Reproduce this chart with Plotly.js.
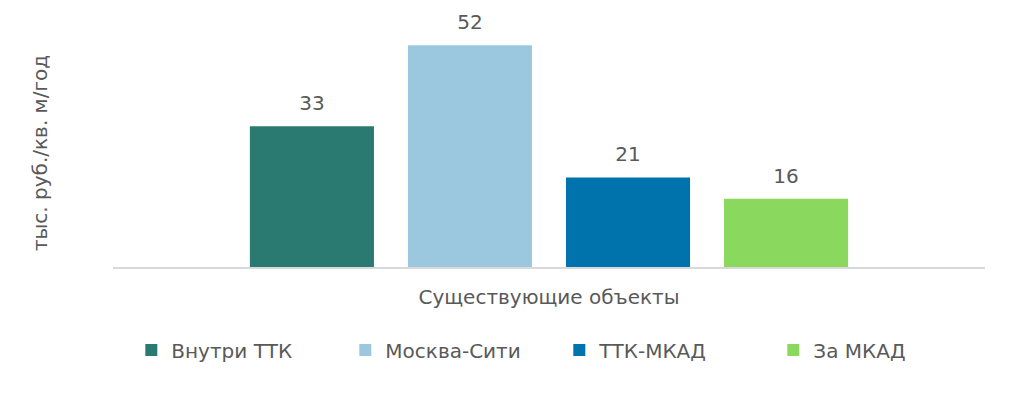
<!DOCTYPE html>
<html><head><meta charset="utf-8">
<script src="https://cdn.plot.ly/plotly-3.0.1.min.js"></script>
<style>html,body{margin:0;padding:0;background:#fff}#chart{width:1024px;height:419px}</style>
</head><body><div id="chart"></div>
<script>
const categories = ["Существующие объекты"];
const seriesNames = ["Внутри ТТК", "Москва-Сити", "ТТК-МКАД", "За МКАД"];
const seriesValues = [[33], [52], [21], [16]];
const seriesColors = ["#2b7a72", "#9bc8de", "#0073ad", "#8bd85f"];
const yTitle = "тыс. руб./кв. м/год";

const FONT = "DejaVu Sans, Verdana, sans-serif";
const TXT = "#595959";

const bars = seriesNames.map((n, i) => ({
  type: "bar",
  name: n,
  x: categories,
  y: seriesValues[i],
  marker: {color: seriesColors[i]},
  hoverinfo: "skip"
}));

const labels = seriesNames.map((n, i) => ({
  type: "scatter",
  mode: "markers+text",
  name: n + " (подпись)",
  x: categories,
  y: seriesValues[i],
  text: seriesValues[i].map(String),
  textposition: "top center",
  textfont: {family: FONT, size: 20, color: TXT},
  marker: {size: 16, opacity: 0},
  cliponaxis: false,
  showlegend: false,
  hoverinfo: "skip"
}));

const layout = {
  width: 1024, height: 419,
  margin: {l: 113, r: 39, t: 11, b: 152},
  paper_bgcolor: "#ffffff", plot_bgcolor: "#ffffff",
  barmode: "group",
  bargap: 0.275,
  bargroupgap: 0.215,
  scattermode: "group",
  scattergap: 0.275,
  font: {family: FONT, color: TXT},
  xaxis: {
    type: "category",
    showline: true, linecolor: "#d9d9d9", linewidth: 2,
    ticks: "", showgrid: false, zeroline: false,
    tickfont: {family: FONT, size: 20, color: TXT},
    ticklabelstandoff: 11
  },
  yaxis: {
    range: [0, 60], showticklabels: false, showgrid: false,
    zeroline: false, showline: false, ticks: ""
  },
  showlegend: true,
  legend: {
    orientation: "h", x: 0.021, xanchor: "left",
    y: -0.324, yanchor: "middle",
    font: {family: FONT, size: 20, color: TXT},
    itemwidth: 30, traceorder: "normal",
    entrywidth: 169, entrywidthmode: "pixels"
  },
  annotations: [{
    text: yTitle, textangle: -90, xref: "paper", yref: "paper",
    x: -0.0837, y: 0.445, xanchor: "center", yanchor: "middle",
    showarrow: false, font: {family: FONT, size: 20, color: TXT}
  }]
};

Plotly.newPlot("chart", bars.concat(labels), layout, {displayModeBar: false, staticPlot: true});
</script></body></html>
